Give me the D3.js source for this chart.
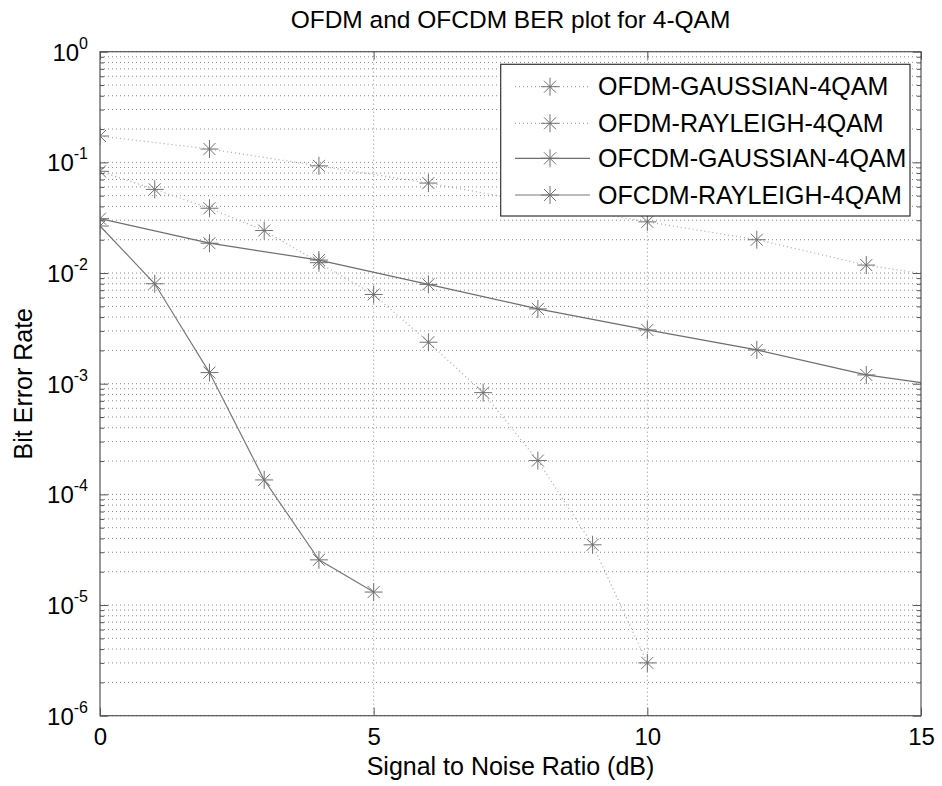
<!DOCTYPE html>
<html>
<head>
<meta charset="utf-8">
<script src="https://cdn.jsdelivr.net/npm/d3@7"></script>
<style>
  body { margin: 0; background: #fff; }
  svg { display: block; font-family: "Liberation Sans", Arial, Helvetica, sans-serif; }
</style>
</head>
<body>
<svg></svg>
<script>
/** Chart values */
let seriesNames = ['OFDM-GAUSSIAN-4QAM', 'OFDM-RAYLEIGH-4QAM', 'OFCDM-GAUSSIAN-4QAM', 'OFCDM-RAYLEIGH-4QAM'];

let snrOfdmGauss = [0, 2, 4, 6, 8, 10, 12, 14, 16];
let berOfdmGauss = [0.173, 0.132, 0.093, 0.065, 0.043, 0.029, 0.020, 0.0118, 0.0083];

let snrOfdmRay = [0, 1, 2, 3, 4, 5, 6, 7, 8, 9, 10];
let berOfdmRay = [0.083, 0.057, 0.0385, 0.0242, 0.0124, 0.0064, 0.00237, 0.00083, 0.000202, 0.000035, 0.0000030];

let snrOfcdmGauss = [0, 2, 4, 6, 8, 10, 12, 14, 16];
let berOfcdmGauss = [0.031, 0.0186, 0.0131, 0.0079, 0.00474, 0.00306, 0.00202, 0.0012, 0.00087];

let snrOfcdmRay = [0, 1, 2, 3, 4, 5];
let berOfcdmRay = [0.0266, 0.0080, 0.00126, 0.000135, 0.0000256, 0.0000131];

let xTicks = [0, 5, 10, 15];
let yDecades = [1e-6, 1e-5, 1e-4, 1e-3, 1e-2, 1e-1, 1e0];

let width = 942;
let height = 786;
let plotLeft = 100, plotRight = 921, plotTop = 51.7, plotBottom = 715.7;

let svg = d3.select('svg');
let xScale, yScale;

const drawCanvas = () => {
    svg.attr('width', width).attr('height', height);
};

const generateScale = () => {
    xScale = d3.scaleLinear().domain([0, 15]).range([plotLeft, plotRight]);
    yScale = d3.scaleLog().domain([1e-6, 1]).range([plotBottom, plotTop]);
};

/** minor values 2..9 in every decade */
const minorValues = () => {
    let out = [];
    yDecades.slice(0, -1).forEach(d => {
        for (let k = 2; k <= 9; k++) out.push(d * k);
    });
    return out;
};

/** dotted grid like matlab's grid on + minor grid */
const drawGrid = () => {
    let g = svg.append('g').attr('class', 'grid')
        .attr('stroke', '#8a8a8a')
        .attr('stroke-width', 1)
        .attr('stroke-dasharray', '1,3');

    g.selectAll('line.h')
        .data(yDecades.concat(minorValues()))
        .enter()
        .append('line')
        .attr('x1', plotLeft).attr('x2', plotRight)
        .attr('y1', d => yScale(d)).attr('y2', d => yScale(d));

    g.selectAll('line.v')
        .data(xTicks.slice(1, -1))
        .enter()
        .append('line')
        .attr('y1', plotTop).attr('y2', plotBottom)
        .attr('x1', d => xScale(d)).attr('x2', d => xScale(d));
};

const drawSeries = () => {
    let defs = svg.append('defs');
    defs.append('clipPath').attr('id', 'plotclip')
        .append('rect')
        .attr('x', plotLeft).attr('y', plotTop)
        .attr('width', plotRight - plotLeft).attr('height', plotBottom - plotTop);

    let sets = [
        { x: snrOfdmGauss, y: berOfdmGauss, dash: '1,3', color: '#a8a8a8' },
        { x: snrOfdmRay, y: berOfdmRay, dash: '1,3', color: '#a8a8a8' },
        { x: snrOfcdmGauss, y: berOfcdmGauss, dash: null, color: '#6e6e6e' },
        { x: snrOfcdmRay, y: berOfcdmRay, dash: null, color: '#7a7a7a' }
    ];

    let line = d3.line()
        .x(p => xScale(p[0]))
        .y(p => yScale(p[1]));

    let g = svg.append('g').attr('clip-path', 'url(#plotclip)');

    sets.forEach(s => {
        let pts = s.x.map((v, i) => [v, s.y[i]]);
        g.append('path')
            .datum(pts)
            .attr('d', line)
            .attr('fill', 'none')
            .attr('stroke', s.color)
            .attr('stroke-width', 1.2)
            .attr('stroke-dasharray', s.dash);

        // asterisk markers
        g.selectAll(null)
            .data(pts)
            .enter()
            .append('path')
            .attr('transform', p => `translate(${xScale(p[0])},${yScale(p[1])})`)
            .attr('d', 'M-9,0H9M0,-9V9M-6,-6L6,6M-6,6L6,-6')
            .attr('stroke', '#707070')
            .attr('stroke-width', 1)
            .attr('fill', 'none');
    });
};

const generateAxes = () => {
    let xAxis = d3.axisBottom(xScale)
        .tickValues(xTicks)
        .tickSize(-8)
        .tickPadding(12)
        .tickFormat(d3.format('d'));

    let gx = svg.append('g')
        .attr('id', 'x-axis')
        .attr('transform', `translate(0, ${plotBottom})`)
        .call(xAxis);
    gx.select('.domain').remove();
    gx.selectAll('line').attr('stroke', '#555');
    gx.selectAll('text')
        .attr('font-size', 24)
        .attr('fill', '#000')
        .attr('font-family', null);

    // top ticks
    svg.append('g')
        .attr('transform', `translate(0, ${plotTop})`)
        .call(d3.axisTop(xScale).tickValues(xTicks).tickSize(-8).tickFormat(''))
        .call(g => g.select('.domain').remove())
        .selectAll('line').attr('stroke', '#555');

    let yAxis = d3.axisLeft(yScale)
        .tickValues(yDecades)
        .tickSize(-8)
        .tickPadding(12)
        .tickFormat('');

    let gy = svg.append('g')
        .attr('id', 'y-axis')
        .attr('transform', `translate(${plotLeft}, 0)`)
        .call(yAxis);
    gy.select('.domain').remove();
    gy.selectAll('line').attr('stroke', '#555');

    // labels as 10 with a superscript exponent
    gy.selectAll('.tick text').each(function (d) {
        let t = d3.select(this)
            .attr('font-size', 24)
            .attr('fill', '#000')
            .attr('font-family', null)
            .attr('dy', '0.35em')
            .attr('x', -12);
        t.append('tspan').text('10');
        t.append('tspan')
            .attr('font-size', 16)
            .attr('dy', '-0.75em')
            .text(Math.round(Math.log10(d)));
    });

    // minor ticks, both sides
    let minor = minorValues();
    svg.append('g')
        .attr('transform', `translate(${plotLeft}, 0)`)
        .call(d3.axisLeft(yScale).tickValues(minor).tickSize(-4).tickFormat(''))
        .call(g => g.select('.domain').remove())
        .selectAll('line').attr('stroke', '#555');
    svg.append('g')
        .attr('transform', `translate(${plotRight}, 0)`)
        .call(d3.axisRight(yScale).tickValues(minor).tickSize(-4).tickFormat(''))
        .call(g => g.select('.domain').remove())
        .selectAll('line').attr('stroke', '#555');
    svg.append('g')
        .attr('transform', `translate(${plotRight}, 0)`)
        .call(d3.axisRight(yScale).tickValues(yDecades).tickSize(-8).tickFormat(''))
        .call(g => g.select('.domain').remove())
        .selectAll('line').attr('stroke', '#555');

    // axes box
    svg.append('rect')
        .attr('x', plotLeft).attr('y', plotTop)
        .attr('width', plotRight - plotLeft).attr('height', plotBottom - plotTop)
        .attr('fill', 'none')
        .attr('stroke', '#555')
        .attr('stroke-width', 1.2);
};

const drawLabels = () => {
    svg.append('text')
        .attr('x', (plotLeft + plotRight) / 2)
        .attr('y', 28)
        .attr('text-anchor', 'middle')
        .attr('font-size', 24.5)
        .text('OFDM and OFCDM BER plot for 4-QAM');

    svg.append('text')
        .attr('x', (plotLeft + plotRight) / 2)
        .attr('y', 775)
        .attr('text-anchor', 'middle')
        .attr('font-size', 25)
        .text('Signal to Noise Ratio (dB)');

    svg.append('text')
        .attr('transform', `translate(32, ${(plotTop + plotBottom) / 2}) rotate(-90)`)
        .attr('text-anchor', 'middle')
        .attr('font-size', 25)
        .text('Bit Error Rate');
};

const drawLegend = () => {
    let lx = 500.7, ly = 64.3, lw = 409.3, lh = 151.7;
    let g = svg.append('g').attr('class', 'legend');

    g.append('rect')
        .attr('x', lx).attr('y', ly)
        .attr('width', lw).attr('height', lh)
        .attr('fill', '#fff')
        .attr('stroke', '#333')
        .attr('stroke-width', 1.2);

    let rowY = [86.7, 123.3, 158.3, 195];
    let dashes = ['1,3', '1,3', null, null];
    let colors = ['#a8a8a8', '#a8a8a8', '#6e6e6e', '#7a7a7a'];

    let rows = g.selectAll('g.row')
        .data(seriesNames)
        .enter()
        .append('g')
        .attr('class', 'row')
        .attr('transform', (d, i) => `translate(0, ${rowY[i]})`);

    rows.append('line')
        .attr('x1', 515).attr('x2', 590)
        .attr('stroke', (d, i) => colors[i])
        .attr('stroke-width', 1.2)
        .attr('stroke-dasharray', (d, i) => dashes[i]);

    rows.append('path')
        .attr('transform', 'translate(550, 0)')
        .attr('d', 'M-9,0H9M0,-9V9M-6,-6L6,6M-6,6L6,-6')
        .attr('stroke', '#707070')
        .attr('fill', 'none');

    rows.append('text')
        .attr('x', 598)
        .attr('dy', '0.35em')
        .attr('font-size', 25)
        .text(d => d);
};

drawCanvas();
generateScale();
drawGrid();
drawSeries();
generateAxes();
drawLabels();
drawLegend();
</script>
</body>
</html>
